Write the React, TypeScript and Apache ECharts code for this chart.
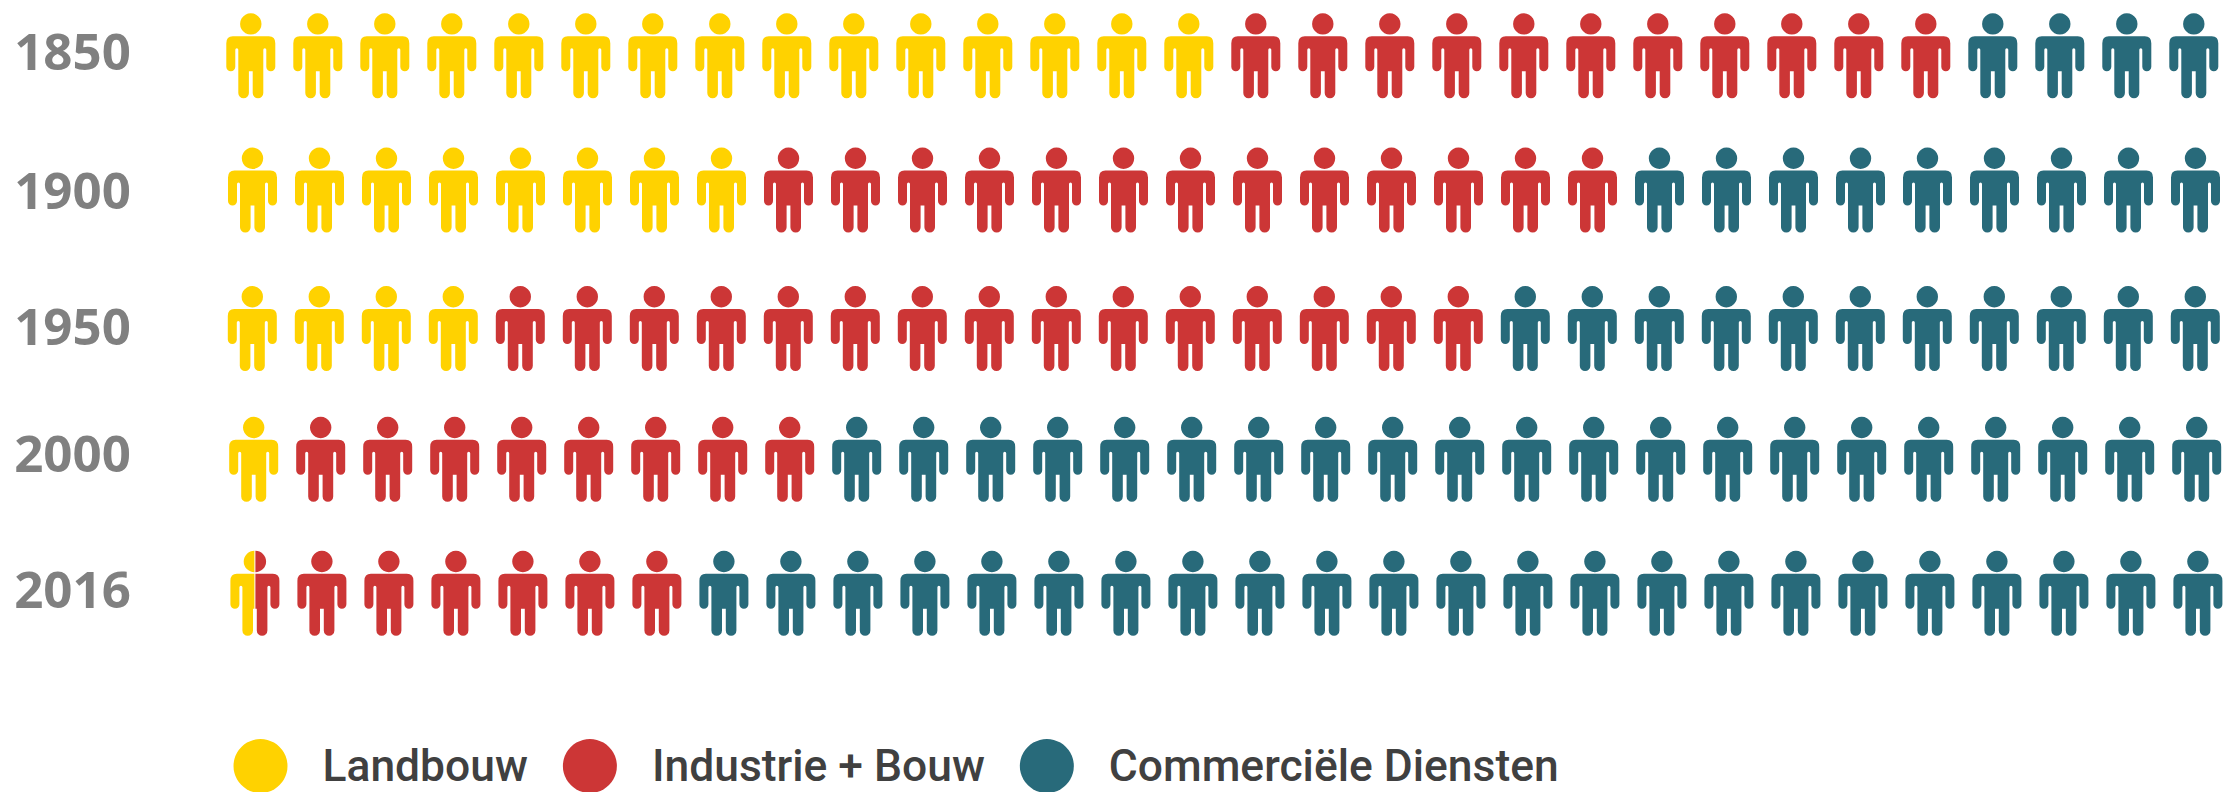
import React, { useEffect, useRef } from "react";
import * as echarts from "echarts";

const years = ["1850", "1900", "1950", "2000", "2016"];
const landbouw = [15, 8, 4, 1, 0.5];
const industrie = [11, 13, 15, 8, 6.5];
const diensten = [4, 9, 11, 21, 23];
const seriesNames = ["Landbouw", "Industrie + Bouw", "Commerciële Diensten"];
const seriesColors = ["#FFD200", "#CC3636", "#286A7A"];
const seriesCounts = [landbouw, industrie, diensten];

// layout corrections of the hand-placed original
const rowShiftX = [0, 1.7, 1.5, 2.9, 4.1];
const rowShiftY = [0, 0, 4, 0.4, 0];
const labelShiftY = [-5.4, -0.9, 0.6, -7, -5.5];

const W = 49;
const H = 85;
const PERSON =
  "M24.5 0A10.7 10.7 0 1 1 24.49 0ZM6.5 23L42.5 23Q49 23 49 30L49 53.5A4.5 4.5 0 0 1 40 53.5L40 36.5Q40 35 38.5 35Q37 35 37 36.5L37 79.7A5.3 5.3 0 0 1 26.4 79.7L26.4 58L22.6 58L22.6 79.7A5.3 5.3 0 0 1 12 79.7L12 36.5Q12 35 10.5 35Q9 35 9 36.5L9 53.5A4.5 4.5 0 0 1 0 53.5L0 30Q0 23 6.5 23Z";
const LEFT_HALF =
  "M24 0L24 21.4A10.7 10.7 0 0 1 24 0ZM6.5 23L24 23L24 58L22.6 58L22.6 79.7A5.3 5.3 0 0 1 12 79.7L12 36.5Q12 35 10.5 35Q9 35 9 36.5L9 53.5A4.5 4.5 0 0 1 0 53.5L0 30Q0 23 6.5 23Z";
const RIGHT_HALF =
  "M25 0A10.7 10.7 0 0 1 25 21.4ZM25 23L42.5 23Q49 23 49 30L49 53.5A4.5 4.5 0 0 1 40 53.5L40 36.5Q40 35 38.5 35Q37 35 37 36.5L37 79.7A5.3 5.3 0 0 1 26.4 79.7L26.4 58L25 58Z";

function cells(seriesIndex: number) {
  const out: number[][] = [];
  years.forEach((_, row) => {
    let start = 0;
    for (let s = 0; s < seriesIndex; s++) start += seriesCounts[s][row];
    const end = start + seriesCounts[seriesIndex][row];
    for (let c = Math.floor(start); c < Math.ceil(end); c++) {
      const part = c < start ? 2 : c + 1 > end ? 1 : 0;
      out.push([c, row, part]);
    }
  });
  return out;
}

function renderPerson(_: any, api: any) {
  const col = api.value(0);
  const row = api.value(1);
  const part = api.value(2);
  const p = api.coord([col, row]);
  const left = p[0] - W / 2 + rowShiftX[row];
  const top = p[1] - H / 2 + rowShiftY[row];
  const style = { fill: api.visual("color") };
  if (part === 0) {
    return { type: "path", shape: { pathData: PERSON, x: left, y: top, width: W, height: H, layout: "cover" }, style };
  }
  if (part === 1) {
    return { type: "path", shape: { pathData: LEFT_HALF, x: left, y: top, width: 24, height: H, layout: "cover" }, style };
  }
  return { type: "path", shape: { pathData: RIGHT_HALF, x: left + 25, y: top, width: 24, height: H, layout: "cover" }, style };
}

const labelFont = { color: "#808080", fontFamily: "Open Sans", fontWeight: 700, fontSize: 51 };
const labelRich: Record<string, any> = {};
labelShiftY.forEach((d, i) => {
  labelRich["r" + i] = {
    ...labelFont,
    padding: d >= 0 ? [2 * d, 0, 0, 0] : [0, 0, -2 * d, 0],
  };
});

export default function App() {
  const ref = useRef<HTMLDivElement>(null);
  useEffect(() => {
    document.body.style.margin = "0";
    const chart = echarts.init(ref.current!, null, { renderer: "svg" });
    chart.setOption({
      animation: false,
      backgroundColor: "#ffffff",
      grid: { left: 250.8, right: 32.2, top: 55.7, bottom: 198.7, outerBoundsMode: "none" },
      xAxis: { type: "value", min: 0, max: 29, show: false },
      yAxis: {
        type: "category",
        inverse: true,
        boundaryGap: false,
        axisLine: { show: false },
        axisTick: { show: false },
        splitLine: { show: false },
        axisLabel: {
          ...labelFont,
          verticalAlign: "middle",
          margin: 120,
          interval: 0,
          formatter: (v: string) => `{r${years.indexOf(v)}|${v}}`,
          rich: labelRich,
        },
        data: years,
      },
      legend: {
        left: 233.5,
        top: 739,
        icon: "circle",
        itemWidth: 54,
        itemHeight: 54,
        itemGap: 35,
        padding: 0,
        selectedMode: false,
        data: seriesNames,
        textStyle: { fontFamily: "Roboto", fontWeight: 500, fontSize: 44.4, color: "#404040", padding: [2, 0, 0, 30] },
      },
      series: seriesNames.map((name, i) => ({
        type: "custom",
        name,
        coordinateSystem: "cartesian2d",
        clip: false,
        itemStyle: { color: seriesColors[i] },
        encode: { x: 0, y: 1 },
        renderItem: renderPerson,
        data: cells(i),
      })),
    });
    return () => chart.dispose();
  }, []);
  return <div ref={ref} style={{ width: 2226, height: 792 }} />;
}
